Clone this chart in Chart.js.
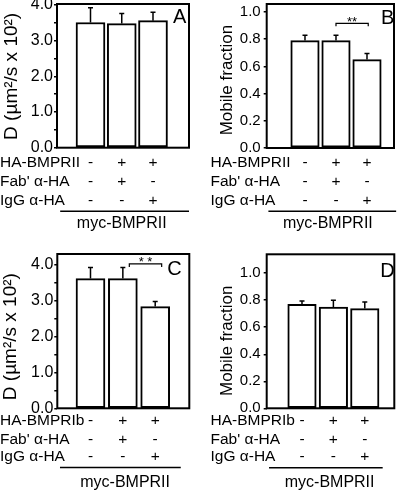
<!DOCTYPE html>
<html>
<head>
<meta charset="utf-8">
<script src="https://cdn.jsdelivr.net/npm/chart.js@4.4.1/dist/chart.umd.min.js"></script>
<style>
html,body{margin:0;padding:0;background:#fff;}
#wrap{position:relative;width:400px;height:490px;overflow:hidden;}
.cell{position:absolute;width:200px;height:245px;}
canvas{display:block;}
</style>
</head>
<body>
<div id="wrap">
  <div class="cell" style="left:0;top:0"><canvas id="cA" width="200" height="245"></canvas></div>
  <div class="cell" style="left:200px;top:0"><canvas id="cB" width="200" height="245"></canvas></div>
  <div class="cell" style="left:0;top:245px"><canvas id="cC" width="200" height="245"></canvas></div>
  <div class="cell" style="left:200px;top:245px"><canvas id="cD" width="200" height="245"></canvas></div>
</div>
<script>
// ---------- data ----------
const conditions = [1, 2, 3];
const rowNamesII = ['HA-BMPRII', "Fab' \u03B1-HA", 'IgG \u03B1-HA'];
const rowNamesIb = ['HA-BMPRIb', "Fab' \u03B1-HA", 'IgG \u03B1-HA'];
const rowSigns = [['-', '+', '+'], ['-', '+', '-'], ['-', '-', '+']];
const groupLabel = 'myc-BMPRII';
const titleD = 'D (\u00B5m\u00B2/s x 10\u00B2)';
const titleMF = 'Mobile fraction';

const diffA = [3.51, 3.48, 3.56];
const diffErrA = [0.41, 0.28, 0.24];
const mobileB = [0.79, 0.79, 0.65];
const mobileErrB = [0.04, 0.04, 0.045];
const diffC = [3.62, 3.62, 2.84];
const diffErrC = [0.31, 0.31, 0.14];
const mobileD = [0.77, 0.75, 0.738];
const mobileErrD = [0.025, 0.05, 0.049];

const FONT = "'Liberation Sans', Arial, Helvetica, sans-serif";

function makePanel(id, p) {
  const plugin = {
    id: 'deco' + id,
    afterDatasetsDraw(chart) {
      const ctx = chart.ctx, ca = chart.chartArea;
      const xs = chart.scales.x, ys = chart.scales.y;
      ctx.save();
      ctx.strokeStyle = '#000';
      ctx.fillStyle = '#000';
      // error bars
      ctx.lineWidth = 1.5;
      p.values.forEach((v, i) => {
        const xp = xs.getPixelForValue(conditions[i]);
        const y0 = ys.getPixelForValue(v);
        const y1 = ys.getPixelForValue(v + p.errors[i]);
        ctx.beginPath();
        ctx.moveTo(xp, y0); ctx.lineTo(xp, y1);
        ctx.moveTo(xp - 2.5, y1); ctx.lineTo(xp + 2.5, y1);
        ctx.stroke();
      });
      // frame
      ctx.lineWidth = 2;
      ctx.strokeRect(ca.left, ca.top, ca.right - ca.left, ca.bottom - ca.top);
      // significance bracket
      if (p.sig) {
        const xa = xs.getPixelForValue(p.sig.from), xb = xs.getPixelForValue(p.sig.to);
        const yb = ys.getPixelForValue(p.sig.y);
        ctx.lineWidth = 1.2;
        ctx.beginPath();
        ctx.moveTo(xa, yb + 3); ctx.lineTo(xa, yb); ctx.lineTo(xb, yb); ctx.lineTo(xb, yb + 3);
        ctx.stroke();
        ctx.font = '13px ' + FONT;
        ctx.textAlign = 'center';
        ctx.textBaseline = 'alphabetic';
        ctx.fillText(p.sig.text, (xa + xb) / 2, yb + 2.5);
      }
      // panel letter
      ctx.font = '20px ' + FONT;
      ctx.textAlign = 'left';
      ctx.textBaseline = 'alphabetic';
      ctx.fillText(p.letter, p.letterX, p.letterY);
      // y title
      const midY = (ys.getPixelForValue(0) + ys.getPixelForValue(p.titleTop)) / 2;
      ctx.save();
      ctx.translate(p.titleX, midY);
      ctx.rotate(-Math.PI / 2);
      ctx.font = p.titleSize + 'px ' + FONT;
      ctx.textAlign = 'center';
      ctx.textBaseline = 'alphabetic';
      ctx.fillText(p.title, 0, 0);
      ctx.restore();
      // condition table
      ctx.font = '15.5px ' + FONT;
      ctx.textBaseline = 'middle';
      p.rows.forEach((name, r) => {
        const yy = ca.bottom + p.rowY[r];
        ctx.textAlign = 'left';
        ctx.fillText(name, p.rowX, yy);
        ctx.textAlign = 'center';
        rowSigns[r].forEach((s, i) => {
          ctx.fillText(s, xs.getPixelForValue(conditions[i]), yy);
        });
      });
      ctx.lineWidth = 1.5;
      ctx.beginPath();
      ctx.moveTo(xs.getPixelForValue(p.lineFrom), ca.bottom + p.lineY);
      ctx.lineTo(xs.getPixelForValue(p.lineTo), ca.bottom + p.lineY);
      ctx.stroke();
      ctx.font = '16px ' + FONT;
      ctx.textAlign = 'center';
      ctx.fillText(groupLabel, xs.getPixelForValue(p.groupAt), ca.bottom + p.groupY);
      ctx.restore();
    }
  };

  return new Chart(document.getElementById(id), {
    type: 'bar',
    data: {
      datasets: [{
        data: conditions.map((x, i) => ({ x: x, y: p.values[i] })),
        backgroundColor: '#fff',
        borderColor: '#000',
        borderWidth: 2,
        borderSkipped: false,
        barThickness: p.barW
      }]
    },
    options: {
      responsive: false,
      animation: false,
      events: [],
      layout: { padding: { left: 0, top: p.area[1], right: 200 - p.area[2], bottom: 245 - p.area[3] } },
      plugins: { legend: { display: false }, tooltip: { enabled: false } },
      scales: {
        x: { type: 'linear', min: p.xMin, max: p.xMax, offset: false, grid: { offset: false }, display: false },
        y: {
          min: 0, max: p.yMax,
          ticks: {
            stepSize: p.step, includeBounds: false, autoSkip: false,
            color: '#000', padding: p.tickPad,
            font: { family: FONT, size: p.tickSize },
            callback: (v) => (Math.abs(v / p.major - Math.round(v / p.major)) < 1e-6 ? v.toFixed(1) : '')
          },
          grid: { drawOnChartArea: false, drawTicks: true, tickLength: 3, color: '#000', lineWidth: 1.5 },
          border: { display: false },
          afterFit: (s) => { s.width = p.area[0]; s.paddingTop = 0; s.paddingBottom = 0; }
        }
      }
    },
    plugins: [plugin]
  });
}

makePanel('cA', {
  values: diffA, errors: diffErrA, area: [57, 4, 189, 147.7],
  xMin: -0.072, xMax: 4.152, yMax: 4.028, step: 0.5, major: 1, tickSize: 16, tickPad: 1, barW: 29,
  letter: 'A', letterX: 173, letterY: 23.3,
  title: titleD, titleSize: 19, titleX: 16.5, titleTop: 4,
  rows: rowNamesII, rowX: 0, rowY: [15.3, 33.6, 52.8], lineY: 63.6, lineFrom: 0.03, lineTo: 4.152, groupAt: 2.0, groupY: 76.3
});
makePanel('cB', {
  values: mobileB, errors: mobileErrB, area: [66.7, 4, 194, 148],
  xMin: -0.235, xMax: 3.871, yMax: 1.059, step: 0.2, major: 0.2, tickSize: 15, tickPad: 3, barW: 28.5,
  letter: 'B', letterX: 181, letterY: 24,
  title: titleMF, titleSize: 17, titleX: 31.7, titleTop: 1.0,
  sig: { from: 2.0, to: 3.04, y: 0.917, text: '**' },
  rows: rowNamesII, rowX: 10.5, rowY: [15, 33.3, 52.3], lineY: 63.3, lineFrom: -0.18, lineTo: 3.94, groupAt: 1.74, groupY: 76
});
makePanel('cC', {
  values: diffC, errors: diffErrC, area: [57.3, 9, 189.3, 163.3],
  xMin: -0.026, xMax: 4.054, yMax: 4.307, step: 0.5, major: 1, tickSize: 16, tickPad: 1, barW: 29,
  letter: 'C', letterX: 167.3, letterY: 30,
  title: titleD, titleSize: 19, titleX: 16, titleTop: 4,
  sig: { from: 2.2, to: 3.2, y: 4.03, text: '* *' },
  rows: rowNamesIb, rowX: 0, rowY: [12.4, 31.4, 48.4], lineY: 59.2, lineFrom: 0.057, lineTo: 3.79, groupAt: 2.07, groupY: 74
});
makePanel('cD', {
  values: mobileD, errors: mobileErrD, area: [66.7, 9.3, 194.3, 163.3],
  xMin: -0.124, xMax: 3.94, yMax: 1.14, step: 0.2, major: 0.2, tickSize: 15, tickPad: 3, barW: 28.5,
  letter: 'D', letterX: 180.3, letterY: 31.7,
  title: titleMF, titleSize: 17, titleX: 32, titleTop: 1.0,
  rows: rowNamesIb, rowX: 10.5, rowY: [12.4, 31.4, 48.4], lineY: 59.5, lineFrom: -0.05, lineTo: 3.57, groupAt: 1.88, groupY: 74
});
</script>
</body>
</html>
